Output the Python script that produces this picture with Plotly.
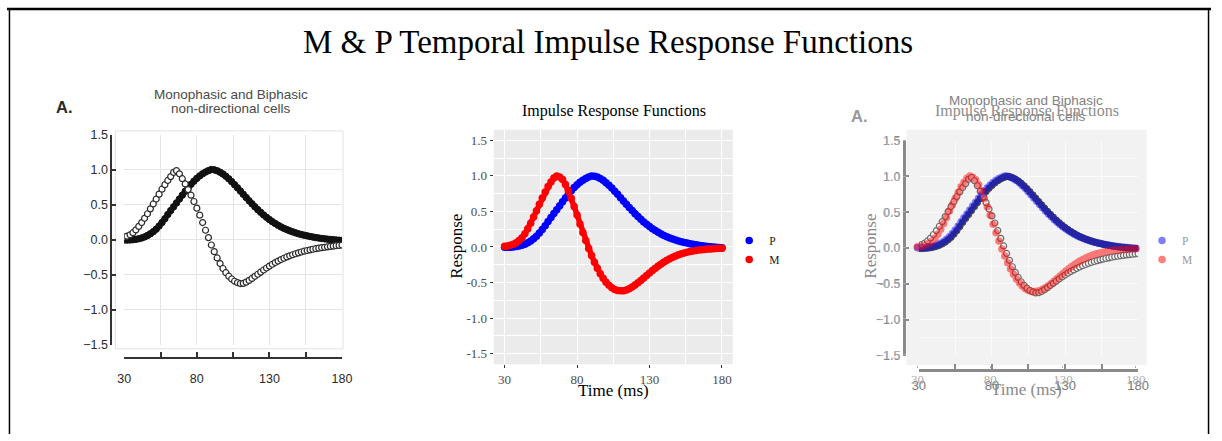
import plotly.graph_objects as go

# ---------------- data ----------------
TIME_MS = list(range(30, 181, 2))

# model impulse responses (middle panel)
P_MODEL = [-0.005, -0.005, -0.003, 0.0, 0.006, 0.014, 0.025, 0.04, 0.06, 0.085,
           0.115, 0.15, 0.195, 0.245, 0.3, 0.36, 0.415, 0.47, 0.525, 0.58,
           0.635, 0.69, 0.74, 0.79, 0.835, 0.875, 0.91, 0.94, 0.965, 0.985,
           1.0, 0.996, 0.983, 0.963, 0.937, 0.905, 0.868, 0.828, 0.785, 0.74,
           0.694, 0.648, 0.602, 0.556, 0.512, 0.469, 0.429, 0.39, 0.353, 0.319,
           0.287, 0.258, 0.231, 0.206, 0.183, 0.162, 0.144, 0.127, 0.112, 0.098,
           0.085, 0.074, 0.064, 0.055, 0.046, 0.038, 0.031, 0.024, 0.018, 0.013,
           0.008, 0.004, 0.0, -0.004, -0.007, -0.01]

M_MODEL = [0.01, 0.015, 0.025, 0.04, 0.06, 0.09, 0.13, 0.185, 0.255, 0.335,
           0.42, 0.51, 0.6, 0.69, 0.775, 0.85, 0.915, 0.97, 1.0, 0.985,
           0.95, 0.88, 0.79, 0.685, 0.57, 0.45, 0.325, 0.205, 0.09, -0.02,
           -0.12, -0.215, -0.3, -0.375, -0.44, -0.495, -0.54, -0.575, -0.598, -0.612,
           -0.617, -0.615, -0.605, -0.587, -0.563, -0.535, -0.503, -0.47, -0.435, -0.4,
           -0.365, -0.331, -0.298, -0.267, -0.238, -0.211, -0.186, -0.164, -0.144, -0.126,
           -0.11, -0.096, -0.084, -0.073, -0.064, -0.056, -0.049, -0.043, -0.038, -0.034,
           -0.03, -0.027, -0.024, -0.021, -0.019, -0.017]

# recorded cells (left panel)
MONO_CELLS = [-0.005, -0.005, -0.003, 0.0, 0.006, 0.014, 0.025, 0.04, 0.06, 0.085,
              0.115, 0.15, 0.195, 0.245, 0.3, 0.36, 0.415, 0.47, 0.525, 0.58,
              0.635, 0.69, 0.74, 0.79, 0.835, 0.875, 0.91, 0.94, 0.965, 0.985,
              1.0, 0.996, 0.983, 0.963, 0.937, 0.905, 0.868, 0.828, 0.785, 0.74,
              0.694, 0.648, 0.602, 0.556, 0.512, 0.469, 0.429, 0.39, 0.353, 0.319,
              0.287, 0.258, 0.231, 0.206, 0.183, 0.162, 0.144, 0.127, 0.112, 0.098,
              0.085, 0.074, 0.064, 0.055, 0.046, 0.038, 0.031, 0.024, 0.018, 0.013,
              0.008, 0.004, 0.0, -0.004, -0.007, -0.01]

BI_CELLS = [0.04, 0.05, 0.07, 0.1, 0.14, 0.19, 0.245, 0.305, 0.37, 0.44,
            0.51, 0.58, 0.65, 0.72, 0.785, 0.845, 0.9, 0.96, 0.985, 0.94,
            0.87, 0.795, 0.715, 0.635, 0.545, 0.45, 0.35, 0.245, 0.135, 0.03,
            -0.075, -0.17, -0.26, -0.34, -0.41, -0.47, -0.52, -0.56, -0.592, -0.612,
            -0.625, -0.622, -0.605, -0.58, -0.552, -0.522, -0.492, -0.462, -0.432, -0.403,
            -0.376, -0.35, -0.326, -0.304, -0.283, -0.264, -0.246, -0.229, -0.214, -0.2,
            -0.187, -0.175, -0.164, -0.154, -0.145, -0.136, -0.128, -0.121, -0.114, -0.108,
            -0.102, -0.096, -0.091, -0.086, -0.081, -0.076]

# tick labels
MAT_X_TICKS = [30, 55, 80, 105, 130, 155, 180]
MAT_X_LABELS = ["30", "", "80", "", "130", "", "180"]
Y_TICKS = [-1.5, -1.0, -0.5, 0.0, 0.5, 1.0, 1.5]
MAT_Y_LABELS = ["\u22121.5", "\u22121.0", "\u22120.5", "0.0", "0.5", "1.0", "1.5"]
GG_X_TICKS = [30, 80, 130, 180]
GG_X_LABELS = ["30", "80", "130", "180"]
GG_Y_LABELS = ["-1.5", "-1.0", "-0.5", "0.0", "0.5", "1.0", "1.5"]
GG_X_MINOR = [55, 105, 155]
GG_Y_MINOR = [-1.25, -0.75, -0.25, 0.25, 0.75, 1.25]

# ---------------- layout helpers ----------------
W, H = 1222, 441
SERIF = "Liberation Serif, Times New Roman, serif"
SANS = "Liberation Sans, Arial, sans-serif"


def fx(px):
    return px / W


def fy(py):
    return 1 - py / H


fig = go.Figure()

# ---- panel 1 (recorded cells) ----
fig.add_trace(go.Scatter(x=TIME_MS, y=MONO_CELLS, mode="markers", xaxis="x", yaxis="y",
                         marker=dict(symbol="circle", size=6.5, color="#111111",
                                     line=dict(color="#111111", width=1)),
                         showlegend=False, hoverinfo="skip"))
fig.add_trace(go.Scatter(x=TIME_MS, y=BI_CELLS, mode="markers", xaxis="x", yaxis="y",
                         marker=dict(symbol="circle", size=6, color="white",
                                     line=dict(color="#2a2a2a", width=1.2)),
                         showlegend=False, hoverinfo="skip"))

# ---- panel 2 (model) ----
for vals, col, name in [(P_MODEL, "#0000FF", "P"), (M_MODEL, "#FF0000", "M")]:
    fig.add_trace(go.Scatter(x=TIME_MS, y=vals, mode="lines", xaxis="x2", yaxis="y2",
                             line=dict(color=col, width=5.5), showlegend=False,
                             hoverinfo="skip"))
    fig.add_trace(go.Scatter(x=TIME_MS, y=vals, mode="markers", xaxis="x2", yaxis="y2",
                             marker=dict(color=col, size=7.5), name=name,
                             legend="legend"))

# ---- panel 3 (overlay) : recorded cells underneath ----
fig.add_trace(go.Scatter(x=TIME_MS, y=MONO_CELLS, mode="markers", xaxis="x3", yaxis="y3",
                         marker=dict(symbol="circle", size=6.5, color="#4a4a4a",
                                     line=dict(color="#4a4a4a", width=1)),
                         showlegend=False, hoverinfo="skip"))
fig.add_trace(go.Scatter(x=TIME_MS, y=BI_CELLS, mode="markers", xaxis="x3", yaxis="y3",
                         marker=dict(symbol="circle", size=6, color="#f7f7f7",
                                     line=dict(color="#6a6a6a", width=1.2)),
                         showlegend=False, hoverinfo="skip"))
# model on top, translucent
for vals, col, name in [(P_MODEL, "#0000FF", "P"), (M_MODEL, "#FF0000", "M")]:
    fig.add_trace(go.Scatter(x=TIME_MS, y=vals, mode="markers", xaxis="x4", yaxis="y4",
                             marker=dict(color=col, size=7.5), opacity=0.5, name=name,
                             legend="legend2"))

# ---------------- axes ----------------
mat_tickfont = dict(family=SANS, size=12.5, color="#2a2a2a")
gg_tickfont = dict(family=SERIF, size=13, color="#4D4D4D")

fig.update_layout(
    width=W, height=H,
    margin=dict(l=0, r=0, t=0, b=0),
    paper_bgcolor="white",
    plot_bgcolor="rgba(0,0,0,0)",
    # panel 1
    xaxis=dict(domain=[fx(119), fx(340)], range=[30, 180], anchor="free",
               position=fy(363), tickmode="array", tickvals=MAT_X_TICKS,
               ticktext=MAT_X_LABELS, ticks="inside", ticklen=5, tickwidth=1.5,
               tickcolor="#333333", showline=True, linecolor="#333333", linewidth=2,
               showgrid=True, gridcolor="#e4e4e4", gridwidth=1, zeroline=False,
               tickfont=mat_tickfont, ticklabelstandoff=9),
    yaxis=dict(domain=[fy(349), fy(131.7)], range=[-1.5, 1.5], anchor="free",
               position=fx(106), tickmode="array", tickvals=Y_TICKS,
               ticktext=MAT_Y_LABELS, ticks="inside", ticklen=4, tickwidth=1.5,
               tickcolor="#333333", showline=True, linecolor="#333333", linewidth=2,
               showgrid=True, gridcolor="#e4e4e4", gridwidth=1, zeroline=False,
               tickfont=mat_tickfont),
    # panel 2
    xaxis2=dict(domain=[fx(494), fx(736.7)], range=[22.5, 187.5], anchor="y2",
                tickmode="array", tickvals=GG_X_TICKS, ticktext=GG_X_LABELS,
                ticks="outside", ticklen=3, tickwidth=1, tickcolor="#333333",
                showline=False, showgrid=True, gridcolor="white", gridwidth=1.2,
                zeroline=False, tickfont=gg_tickfont,
                minor=dict(tickmode="array", tickvals=GG_X_MINOR, showgrid=True,
                           gridcolor="white", gridwidth=0.6, ticks="")),
    yaxis2=dict(domain=[fy(369), fy(126.7)], range=[-1.65, 1.65], anchor="x2",
                tickmode="array", tickvals=Y_TICKS, ticktext=GG_Y_LABELS,
                ticks="outside", ticklen=3, tickwidth=1, tickcolor="#333333",
                showline=False, showgrid=True, gridcolor="white", gridwidth=1.2,
                zeroline=False, tickfont=gg_tickfont,
                minor=dict(tickmode="array", tickvals=GG_Y_MINOR, showgrid=True,
                           gridcolor="white", gridwidth=0.6, ticks="")),
    # panel 3 - recorded-cell axes
    xaxis3=dict(domain=[fx(925.5), fx(1148)], range=[30, 180], anchor="free",
                position=fy(375), tickmode="array", tickvals=MAT_X_TICKS,
                ticktext=MAT_X_LABELS, ticks="inside", ticklen=5, tickwidth=1.5,
                tickcolor="#8a8a8a", showline=True, linecolor="#8a8a8a", linewidth=2.5,
                showgrid=True, gridcolor="#fbfbfb", gridwidth=1, zeroline=False,
                tickfont=dict(family=SANS, size=13, color="#777777"),
                ticklabelstandoff=3),
    yaxis3=dict(domain=[fy(360), fy(138)], range=[-1.5, 1.5], anchor="free",
                position=fx(910), tickmode="array", tickvals=Y_TICKS,
                ticktext=MAT_Y_LABELS, ticks="inside", ticklen=4, tickwidth=1.5,
                tickcolor="#8a8a8a", showline=True, linecolor="#8a8a8a", linewidth=2.5,
                showgrid=True, gridcolor="#fbfbfb", gridwidth=1, zeroline=False,
                tickfont=dict(family=SANS, size=12.5, color="#888888"),
                minor=dict(tickmode="array", tickvals=GG_Y_MINOR, showgrid=True,
                           gridcolor="#f8f8f8", gridwidth=0.6, ticks="")),
    # panel 3 - model axes
    xaxis4=dict(domain=[fx(913), fx(1156.7)], range=[22.5, 187.5], anchor="y4",
                tickmode="array", tickvals=GG_X_TICKS, ticktext=GG_X_LABELS,
                ticks="outside", ticklen=2, tickwidth=1, tickcolor="#aaaaaa",
                showline=False, showgrid=False, zeroline=False,
                tickfont=dict(family=SERIF, size=13, color="#aaaaaa")),
    yaxis4=dict(domain=[fy(370), fy(126.7)], range=[-1.65, 1.65], anchor="x4",
                tickmode="array", tickvals=Y_TICKS, ticktext=GG_Y_LABELS,
                ticks="outside", ticklen=3, tickwidth=1, tickcolor="#aaaaaa",
                showline=False, showgrid=False, zeroline=False,
                tickfont=dict(family=SERIF, size=13, color="#b0b0b0")),
    legend=dict(x=fx(733), y=fy(251), xanchor="left", yanchor="middle",
                bgcolor="rgba(0,0,0,0)", font=dict(family=SERIF, size=11.5, color="#222222"),
                itemsizing="trace"),
    legend2=dict(x=fx(1152), y=fy(251), xanchor="left", yanchor="middle",
                 bgcolor="rgba(0,0,0,0)", font=dict(family=SERIF, size=11.5, color="#999999"),
                 itemsizing="trace"),
)

# ---------------- backgrounds / slide frame ----------------
shapes = [
    dict(type="rect", xref="paper", yref="paper", x0=fx(110), x1=fx(341),
         y0=fy(353), y1=fy(128), line=dict(color="#e2e2e2", width=1),
         fillcolor="white", layer="below"),
    dict(type="rect", xref="paper", yref="paper", x0=fx(494), x1=fx(736.7),
         y0=fy(369), y1=fy(126.7), line=dict(width=0), fillcolor="#EBEBEB",
         layer="below"),
    dict(type="rect", xref="paper", yref="paper", x0=fx(913), x1=fx(1156.7),
         y0=fy(370), y1=fy(126.7), line=dict(width=0), fillcolor="#F2F2F2",
         layer="below"),
    dict(type="line", xref="paper", yref="paper", x0=0, x1=1, y0=fy(2), y1=fy(2),
         line=dict(color="black", width=2.5)),
    dict(type="line", xref="paper", yref="paper", x0=fx(2.5), x1=fx(2.5), y0=0,
         y1=fy(2), line=dict(color="black", width=1.5)),
    dict(type="line", xref="paper", yref="paper", x0=fx(1219.5), x1=fx(1219.5), y0=0,
         y1=fy(2), line=dict(color="black", width=1.5)),
]
fig.update_layout(shapes=shapes)


def note(text, x, y, size, color, family, angle=0, bold=False):
    if bold:
        text = "<b>" + text + "</b>"
    return dict(text=text, x=fx(x), y=fy(y), xref="paper", yref="paper",
                xanchor="center", yanchor="middle", showarrow=False,
                textangle=angle, font=dict(size=size, color=color, family=family))


annotations = [
    note("M &amp; P Temporal Impulse Response Functions", 610, 36, 33, "black", SERIF),
    # panel 1
    note("A.", 58, 103, 16.5, "#2a2a2a", SANS, bold=True),
    note("Monophasic and Biphasic", 227, 90.7, 13.5, "#4a4a4a", SANS),
    note("non-directional cells", 227, 105, 13.5, "#4a4a4a", SANS),
    # panel 2
    note("Impulse Response Functions", 615.7, 107.3, 16, "black", SERIF),
    note("Response", 456.7, 246.7, 17, "black", SERIF, angle=-90),
    note("Time (ms)", 615.7, 396, 17, "black", SERIF),
    # panel 3
    note("A.", 865, 113, 16.5, "#999999", SANS, bold=True),
    note("Monophasic and Biphasic", 1034, 96.7, 13.5, "#808080", SANS),
    note("non-directional cells", 1034, 113.3, 13.5, "#808080", SANS),
    note("Impulse Response Functions", 1035, 107.3, 16, "#8c8c8c", SERIF),
    note("Response", 876.7, 246.7, 17, "#888888", SERIF, angle=-90),
    note("Time (ms)", 1035, 395, 17, "#888888", SERIF),
]
fig.update_layout(annotations=annotations)

fig.write_html("out.html")
